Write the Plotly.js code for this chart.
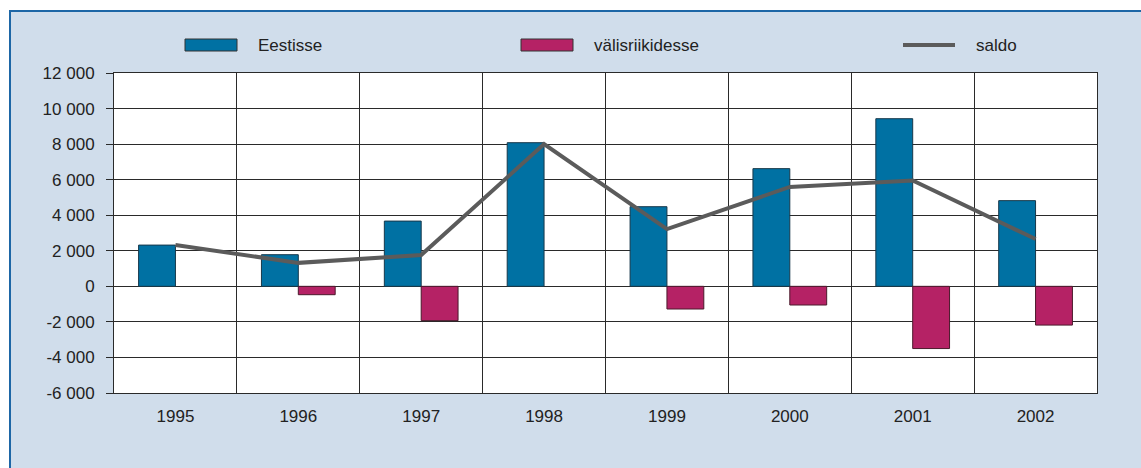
<!DOCTYPE html>
<html>
<head>
<meta charset="utf-8">
<script src="https://cdn.plot.ly/plotly-3.0.1.min.js"></script>
<style>
  body { margin: 0; background: #fff; }
  #frame {
    position: absolute; left: 9px; top: 10px;
    width: 1132px; height: 458px;
    box-sizing: border-box;
    border-top: 2px solid #1d66a6;
    border-left: 2px solid #1d66a6;
    background: #d0ddeb;
  }
  #chart { width: 1130px; height: 456px; }
</style>
</head>
<body>
<div id="frame"><div id="chart"></div></div>
<script>
// years on the x axis
var years = ["1995", "1996", "1997", "1998", "1999", "2000", "2001", "2002"];
// migration into Estonia, out to foreign countries, and the balance
var eestisse = [2320, 1780, 3670, 8080, 4480, 6620, 9430, 4820];
var valisriikidesse = [null, -470, -1930, null, -1275, -1050, -3500, -2180];
var saldo = [2330, 1320, 1760, 8000, 3220, 5590, 5950, 2660];

var seriesNames = ["Eestisse", "välisriikidesse", "saldo"];
var seriesColors = ["#0071a3", "#b52265", "#5b5b5b"];

var yTicks = [-6000, -4000, -2000, 0, 2000, 4000, 6000, 8000, 10000, 12000];
// "12 000" style labels with a plain hyphen for negatives
var yTickText = yTicks.map(function (v) {
    var s = String(Math.abs(v)).replace(/\B(?=(\d{3})+(?!\d))/g, " ");
    return (v < 0 ? "-" : "") + s;
});

var trace1 = {
    x: years, y: eestisse, type: "bar", name: seriesNames[0],
    marker: {color: seriesColors[0], line: {color: "#17384a", width: 1}}
};
var trace2 = {
    x: years, y: valisriikidesse, type: "bar", name: seriesNames[1],
    marker: {color: seriesColors[1], line: {color: "#4a1a2c", width: 1}}
};
var trace3 = {
    x: years, y: saldo, type: "scatter", mode: "lines", name: seriesNames[2],
    line: {color: seriesColors[2], width: 4}
};

var data = [trace1, trace2, trace3];

// plot area in page pixels: left 114, right 1097, top 73, bottom 393
function xp(px) { return (px - 114) / 983; }
function yp(py) { return (393 - py) / 320; }

// hand-made legend to get the wide swatches
var legendX = [185, 521, 903];
var shapes = [];
var annotations = [];
seriesNames.forEach(function (name, i) {
    var x0 = legendX[i], x1 = legendX[i] + 52;
    if (i < 2) {
        shapes.push({
            type: "rect", xref: "paper", yref: "paper",
            x0: xp(x0), x1: xp(x1), y0: yp(51), y1: yp(39),
            fillcolor: seriesColors[i], line: {color: "#333", width: 1}
        });
    } else {
        shapes.push({
            type: "line", xref: "paper", yref: "paper",
            x0: xp(x0), x1: xp(x1), y0: yp(45), y1: yp(45),
            line: {color: seriesColors[i], width: 4}
        });
    }
    annotations.push({
        text: name, xref: "paper", yref: "paper",
        x: xp(x1 + 19), y: yp(45), xanchor: "left", yanchor: "middle",
        showarrow: false, font: {size: 17, color: "#222"}
    });
});

var layout = {
    width: 1130,
    height: 456,
    margin: {l: 103, r: 44, t: 61, b: 75},
    paper_bgcolor: "rgba(0,0,0,0)",
    plot_bgcolor: "#ffffff",
    font: {family: "Liberation Sans, Arial, sans-serif", size: 17, color: "#222"},
    showlegend: false,
    barmode: "group",
    bargap: 0.4,
    bargroupgap: 0,
    xaxis: {
        type: "category",
        tickson: "boundaries",
        ticks: "",
        showgrid: true,
        gridcolor: "#2a2a2a",
        gridwidth: 1,
        showline: true,
        linecolor: "#2a2a2a",
        linewidth: 1,
        mirror: true,
        ticklabelstandoff: 8
    },
    yaxis: {
        range: [-6000, 12000],
        tickvals: yTicks,
        ticktext: yTickText,
        ticks: "outside",
        ticklen: 7,
        tickcolor: "#2a2a2a",
        showgrid: true,
        gridcolor: "#2a2a2a",
        gridwidth: 1,
        zeroline: false,
        showline: true,
        linecolor: "#2a2a2a",
        linewidth: 1,
        mirror: true,
        ticklabelstandoff: 8
    },
    shapes: shapes,
    annotations: annotations
};

Plotly.newPlot("chart", data, layout, {staticPlot: true});
</script>
</body>
</html>
